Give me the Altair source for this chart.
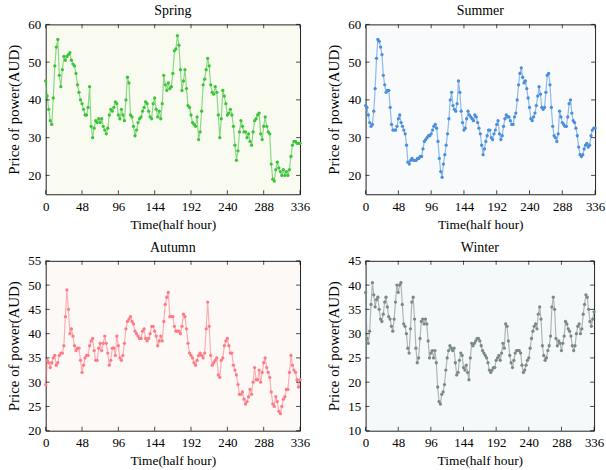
import altair as alt
import pandas as pd

TIMES = list(range(0, 337, 2))
XTICKS = [0, 48, 96, 144, 192, 240, 288, 336]

spring = [45, 41, 37.5, 34.5, 33.5, 40.5, 49, 54, 56, 46.5,
          43.5, 48, 51.5, 50.5, 51.5, 52, 52.5, 50.5, 49.5, 49,
          47, 44, 42, 40, 39, 37.5, 36, 36, 38, 43.5,
          33, 30, 32.5, 34.5, 34, 35, 34, 35, 33, 32,
          31, 32.5, 36, 37.5, 37, 38, 39.5, 39, 36, 35,
          37.5, 36, 34.5, 40, 46, 44.5, 36, 35.5, 33, 30.5,
          32, 34, 35, 35.5, 37, 38, 39.5, 39, 37, 35.5,
          35, 39, 40.5, 37.5, 35.5, 37, 35, 39, 46.5, 44,
          42.5, 44.5, 43, 43.5, 47, 53, 53.5, 57, 54.5, 48,
          42.5, 45, 48, 43, 38.5, 38, 36, 34, 33.5, 33,
          35.5, 29.5, 31.5, 37, 44, 45.5, 48, 51, 49, 44,
          42, 41.5, 43.5, 42, 36, 30, 35, 42.5, 41, 39,
          36, 36.5, 37.5, 36, 33, 28, 24, 26.5, 31.5, 34.5,
          33, 31.5, 31.5, 30, 31, 29, 28, 31.5, 34.5, 35,
          36, 36.5, 31, 29.5, 33, 35.5, 33, 31.5, 31, 23,
          19, 18.5, 21.5, 23.5, 22, 21, 20, 21.5, 20, 21,
          20, 21.5, 25, 28, 29, 29, 28.5, 28.5, 28.5]

summer = [38.5, 38, 36, 34, 33, 33.5, 37, 43, 51, 56,
          55.5, 54, 52, 46.5, 44, 42, 42.5, 42.5, 38, 33.5,
          32, 32, 32, 33, 35, 36, 34, 33, 32, 31,
          28, 23.5, 23, 24, 24.5, 24, 24, 24, 24.5, 24.5,
          25, 25, 27, 29, 29.5, 30, 30.5, 30.5, 31, 32,
          33, 33.5, 32.5, 29, 24.5, 21, 19.5, 23, 25.5, 28,
          31, 35, 40, 42, 38.5, 37.5, 37, 39, 45, 42,
          37, 34, 32, 32.5, 35, 37, 36, 35.5, 35, 34.5,
          36, 35.5, 34, 32.5, 31, 28, 25.5, 27, 29, 30.5,
          32, 32, 30, 29.5, 31, 32, 33.5, 34.5, 31, 29.5,
          30.5, 33, 35, 36, 35.5, 35.5, 34.5, 33.5, 33.5, 35.5,
          36.5, 40, 44, 47, 48.5, 46, 44.5, 45, 43, 40.5,
          38, 35, 34.5, 35.5, 36.5, 38.5, 41, 43.5, 41.5, 38,
          37.5, 38, 42, 46.5, 47, 44, 38, 33, 30.5, 30,
          29, 31, 37, 35.5, 34, 33.5, 33, 33, 35.5, 39,
          40, 36.5, 34.5, 34, 32.5, 30.5, 27.5, 25.5, 25, 25.5,
          27, 28, 28.5, 27.5, 28, 30.5, 32, 32.5, 32.5]

autumn = [29.5, 34.5, 34, 33, 34, 35, 35.5, 33.5, 34, 35.5,
          36, 36, 37.5, 43.5, 49, 45, 40, 41, 39.5, 37.5,
          36.5, 37, 37, 34.5, 32, 33.5, 35, 35.5, 35.5, 37.5,
          38.5, 39, 36.5, 34.5, 34.5, 37, 38, 36.5, 38, 39.5,
          38, 36, 33.5, 34.5, 37, 37, 35.5, 39.5, 37.5, 35,
          34.5, 35.5, 38, 41, 42.5, 43, 43.5, 42.5, 42, 40.5,
          40, 39.5, 39, 39, 40.5, 41, 39, 38.5, 39, 40,
          41.5, 41.5, 40.5, 39.5, 37.5, 38.5, 39.5, 38.5, 42.5, 46,
          47.5, 48.5, 43.5, 43.5, 43.5, 41.5, 40.5, 40.5, 40.5, 40,
          41.5, 44, 43.5, 41, 38, 36, 35.5, 35, 34, 33.5,
          34.5, 35.5, 36, 35.5, 35, 36, 41, 46.5, 41.5, 35.5,
          33.5, 34, 34.5, 35, 31.5, 31, 34.5, 35, 37.5, 38.5,
          39, 37.5, 36, 36, 33.5, 32.5, 31.5, 29.5, 27.5, 27.5,
          28, 26.5, 25.5, 26, 27, 28.5, 27.5, 30, 33, 30.5,
          30.5, 32.5, 30, 32, 34, 35, 33, 32, 31, 28,
          25.5, 25, 27, 26, 24, 23.5, 25, 26.5, 27, 28.5,
          28.5, 32, 35.5, 33.5, 32.5, 32, 30.5, 29, 30.5]

winter = [38.5, 29, 28, 30.5, 36, 40.5, 38, 35.5, 37, 37.5,
          35, 33, 32.5, 34, 36.5, 37.5, 35.5, 33.5, 33, 31.5,
          30.5, 33, 36.5, 40, 38.5, 40, 40.5, 36, 32, 31.5,
          30, 27, 26, 31, 36.5, 37.5, 33, 27, 24, 25,
          29, 32.5, 33, 32, 33, 32, 28.5, 25, 26, 26.5,
          25, 26.5, 24, 19, 16, 15.5, 17.5, 18, 19.5, 22.5,
          25, 26.5, 27.5, 27, 26.5, 27, 24, 21.5, 22, 24.5,
          26, 25.5, 23, 22.5, 23.5, 22, 20.5, 25, 28, 27.5,
          28, 28.5, 29, 29, 28.5, 27.5, 26.5, 26, 25.5, 25,
          24, 22.5, 22, 22.5, 23, 23, 24.5, 25, 25.5, 24.5,
          26, 28, 27, 32, 31.5, 28.5, 25.5, 24, 23, 24.5,
          26, 26.5, 26.5, 26.5, 26, 23.5, 22, 22.5, 23.5, 24.5,
          25, 27, 29, 30.5, 31.5, 32, 31, 34, 35.5, 33,
          27.5, 25.5, 24.5, 25, 26.5, 27.5, 29.5, 35.5, 37.5, 35,
          29, 27.5, 28.5, 28, 26.5, 28, 29.5, 32.5, 32, 31,
          30.5, 29.5, 27.5, 26.5, 27.5, 30, 31.5, 32, 30, 31,
          34, 36, 38, 37.5, 35, 32.5, 31.5, 33, 34.5]

FONT = "Liberation Serif"
H = 171


def panel(title, values, ydom, yticks, color, fill, width):
    df = pd.DataFrame({"t": TIMES, "v": values})
    xenc = alt.X("t:Q", scale=alt.Scale(domain=[0, 336], nice=False, zero=False),
                 axis=alt.Axis(values=XTICKS, title="Time(half hour)", ticks=False,
                               domain=False, grid=False, labelFlush=False,
                               labelPadding=6, titlePadding=4, labelFontSize=13,
                               titleFontSize=13.5))
    yenc = alt.Y("v:Q", scale=alt.Scale(domain=ydom, nice=False, zero=False),
                 axis=alt.Axis(values=yticks, title="Price of power(AUD)", ticks=False,
                               domain=False, grid=False, labelPadding=5,
                               titlePadding=6, labelFontSize=13, titleFontSize=15))
    line = alt.Chart(df).mark_line(color=color, strokeWidth=1.2, opacity=0.6).encode(x=xenc, y=yenc)
    pts = alt.Chart(df).mark_circle(color=color, size=11, opacity=1).encode(x=xenc, y=yenc)
    xt = pd.DataFrame({"t": XTICKS})
    yt = pd.DataFrame({"v": yticks})
    tb = alt.Chart(xt).mark_tick(color="black", thickness=1, size=4).encode(x=xenc, y=alt.value(H - 2))
    tt = alt.Chart(xt).mark_tick(color="black", thickness=1, size=4).encode(x=xenc, y=alt.value(2))
    tl = alt.Chart(yt).mark_tick(color="black", thickness=1, size=4).encode(y=yenc, x=alt.value(2))
    tr = alt.Chart(yt).mark_tick(color="black", thickness=1, size=4).encode(y=yenc, x=alt.value(width - 2))
    return alt.layer(line, pts, tb, tt, tl, tr).properties(
        width=width, height=H,
        title=alt.TitleParams(title, fontSize=14, font=FONT, fontWeight="normal", offset=0),
        view=alt.ViewBackground(fill=fill, stroke="#222222", strokeWidth=1),
    )


p1 = panel("Spring", spring, [15, 60], [20, 30, 40, 50, 60], "#3cc43c", "#fafbf0", 256)
p2 = panel("Summer", summer, [15, 60], [20, 30, 40, 50, 60], "#4a8fdb", "#f8fafb", 231)
p3 = panel("Autumn", autumn, [20, 55], [20, 25, 30, 35, 40, 45, 50, 55], "#ff7b86", "#fdf9f6", 256)
p4 = panel("Winter", winter, [10, 45], [10, 15, 20, 25, 30, 35, 40, 45], "#7b8b84", "#f6f9fa", 230)

chart = alt.vconcat(
    alt.hconcat(p1, p2, spacing=15),
    alt.hconcat(p3, p4, spacing=15),
    spacing=9,
).properties(
    padding={"left": 6, "top": 2, "right": 0, "bottom": 0},
    background="white",
).configure_axis(
    labelFont=FONT, titleFont=FONT, labelColor="black", titleColor="black",
    titleFontWeight="normal",
).configure_view(stroke="#222222")

chart.save("out.html", embed_options={"renderer": "svg", "actions": False})
